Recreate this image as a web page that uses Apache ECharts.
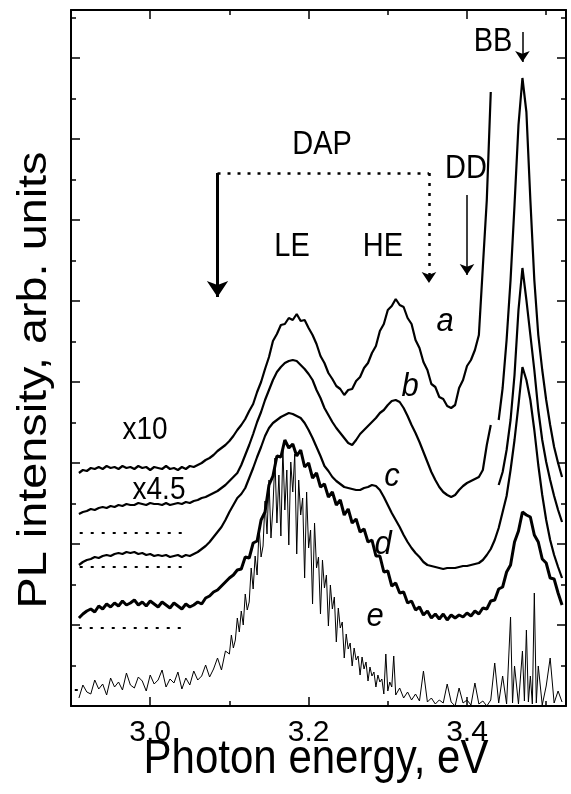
<!DOCTYPE html>
<html><head><meta charset="utf-8">
<script src="https://cdn.jsdelivr.net/npm/echarts@6/dist/echarts.min.js"></script>
<style>html,body{margin:0;padding:0;background:#fff}#c{width:571px;height:794px}</style>
</head><body><div id="c"></div>
<script>
// Photon energy grid (eV)
const energy = [
2.910,2.915,2.920,2.925,2.930,2.935,2.940,2.945,2.950,2.955,
2.960,2.965,2.970,2.975,2.980,2.985,2.990,2.995,3.000,3.005,
3.010,3.015,3.020,3.025,3.030,3.035,3.040,3.045,3.050,3.055,
3.060,3.065,3.070,3.075,3.080,3.085,3.090,3.095,3.100,3.105,
3.110,3.115,3.120,3.125,3.130,3.135,3.140,3.145,3.150,3.155,
3.160,3.165,3.170,3.175,3.180,3.185,3.190,3.195,3.200,3.205,
3.210,3.215,3.220,3.225,3.230,3.235,3.240,3.245,3.250,3.255,
3.260,3.265,3.270,3.275,3.280,3.285,3.290,3.295,3.300,3.305,
3.310,3.315,3.320,3.325,3.330,3.335,3.340,3.345,3.350,3.355,
3.360,3.365,3.370,3.375,3.380,3.385,3.390,3.395,3.400,3.405,
3.410,3.415,3.420,3.425,3.430,3.435,3.440,3.445,3.450,3.455,
3.460,3.465,3.470,3.475,3.480,3.485,3.490,3.495,3.500,3.505,
3.510,3.515,3.520];

// PL intensity (arb. units, offset for display)
const curveA = [
233,236,235,238,237,239,237,240,238,239,
237,240,238,239,237,240,238,239,236,239,
238,237,240,237,238,236,239,237,240,239,
241,243,246,248,251,255,258,261,265,270,
276,281,287,295,302,314,324,337,349,365,
372,381,382,388,386,392,385,386,378,371,
362,350,343,333,327,320,317,311,316,317,
325,329,338,343,353,360,375,382,396,400,
407,401,399,388,382,366,358,344,336,322,
319,309,307,300,298,301,318,326,340,346,
356,371,439,506,614,null,286,318,366,426,
501,581,628,594,506,426,371,336,306,281,
259,243,229];

const curveB = [
192,194,195,197,196,198,199,198,200,199,
201,200,202,201,201,203,202,201,203,202,
202,201,203,201,202,203,202,204,203,205,
206,208,209,211,213,215,218,221,225,229,
233,241,251,261,272,284,294,306,316,326,
334,339,343,345,346,345,341,337,332,326,
316,308,298,291,284,278,273,268,263,261,
266,272,276,280,284,288,293,296,301,305,
306,304,298,290,281,273,264,254,244,234,
226,219,214,211,209,211,216,220,223,225,
227,229,236,261,281,null,221,234,256,286,
331,396,438,406,371,336,296,266,244,226,
210,196,184];

const curveC = [
141,144,146,147,149,148,150,151,150,152,
153,152,154,153,154,152,153,151,152,150,
151,150,151,149,150,151,149,151,150,152,
154,157,160,164,169,174,179,186,194,201,
208,212,218,228,238,249,259,270,278,283,
286,289,291,293,292,290,288,283,276,268,
259,250,240,235,229,225,222,219,218,217,
216,216,218,219,221,220,216,209,201,193,
186,179,171,164,158,153,149,144,141,140,
139,138,137,138,138,138,139,140,140,141,
142,143,146,151,157,166,178,194,210,236,
266,301,339,326,306,276,241,211,186,166,
151,139,128];

const curveD = [
88,92,95,97,94,100,97,102,99,103,
100,105,101,103,106,101,104,100,105,102,
99,104,101,98,103,100,97,102,99,101,
104,102,108,110,114,116,120,124,128,131,
136,137,149,148,163,165,186,194,221,230,
250,249,266,258,262,250,256,239,243,228,
233,219,222,209,214,201,206,191,197,183,
187,174,177,164,166,150,150,134,135,120,
123,113,114,103,105,96,99,91,95,88,
92,87,92,86,91,88,91,89,93,90,
95,92,98,97,105,106,117,119,134,141,
164,175,194,191,189,171,164,147,143,128,
127,113,101];

// curve e: [energy, intensity]
const curveE = [
[2.910,8],[2.915,21],[2.920,14],[2.925,12],[2.930,26],[2.935,17],[2.940,22],[2.945,11],[2.950,28],[2.955,19],
[2.960,24],[2.965,16],[2.970,33],[2.975,21],[2.980,18],[2.985,29],[2.990,25],[2.995,15],[3.000,31],[3.005,22],
[3.010,26],[3.015,36],[3.020,19],[3.025,27],[3.030,23],[3.035,34],[3.040,17],[3.045,28],[3.050,21],[3.055,35],
[3.060,26],[3.065,30],[3.070,41],[3.075,29],[3.080,37],[3.085,48],[3.090,36],[3.095,55],
[3.1000,52],[3.1025,71],[3.1050,58],[3.1075,66],[3.1100,88],[3.1125,74],[3.1150,95],[3.1175,81],[3.1200,112],[3.1225,96],
[3.1250,104],[3.1275,138],[3.1300,117],[3.1325,150],[3.1350,131],[3.1375,178],[3.1400,149],[3.1425,160],[3.1450,205],[3.1475,172],
[3.1500,226],[3.1525,168],[3.1550,199],[3.1575,248],[3.1600,183],[3.1625,231],[3.1650,170],[3.1675,258],[3.1700,196],[3.1725,236],
[3.1750,161],[3.1775,244],[3.1800,214],[3.1825,252],[3.1850,152],[3.1875,226],[3.1900,191],[3.1925,208],[3.1950,128],[3.1975,214],
[3.2000,158],[3.2025,176],[3.2050,102],[3.2075,183],[3.2100,138],[3.2125,149],[3.2150,92],[3.2175,146],[3.2200,118],[3.2225,131],
[3.2250,80],[3.2275,121],[3.2300,97],[3.2325,109],[3.2350,64],[3.2375,98],[3.2400,78],[3.2425,84],[3.2450,48],[3.2475,72],
[3.2500,57],[3.2525,63],[3.2550,40],[3.2575,58],[3.2600,46],[3.2625,50],[3.2650,31],[3.2675,49],[3.2700,37],[3.2725,44],
[3.2750,25],[3.2775,39],[3.2800,30],[3.2825,34],[3.2850,19],[3.2875,31],[3.2900,24],[3.2925,27],[3.2950,12],[3.2975,52],
[3.3000,15],[3.3025,24],[3.3050,19],[3.3075,50],[3.3100,11],
[3.315,18],[3.320,8],[3.325,14],[3.330,6],[3.335,12],[3.340,5],[3.345,35],[3.350,4],
[3.355,8],[3.360,2],[3.365,6],[3.370,3],[3.375,22],[3.380,4],[3.385,0],[3.390,18],[3.395,3],[3.400,6],
[3.405,1],[3.410,23],[3.415,2],[3.420,5],[3.425,0],[3.430,6],[3.435,43],[3.440,3],[3.445,30],[3.450,2],
[3.455,89],[3.4575,3],[3.460,40],[3.465,2],[3.470,55],[3.4725,5],[3.475,76],[3.4775,4],[3.480,30],[3.4825,2],
[3.485,113],[3.4875,3],[3.490,40],[3.495,1],[3.500,20],[3.505,48],[3.510,3],[3.515,15],[3.520,4]];

// zero-level dotted markers
const zeroLineB = [[2.911,173],[3.044,173]];
const zeroLineC = [[2.911,139],[3.041,139]];
const zeroLineD = [[2.882,78],[3.048,78]];
const zeroLineE = [[2.877,16],[2.915,16]];

// annotation arrows [energy, intensity]
const arrowDAP = [[3.085,533],[3.085,409]];
const bracketDAP = [[3.085,533],[3.352,533]];
const arrowDAPdot = [[3.352,533],[3.352,423]];
const arrowDD = [[3.400,511],[3.400,431]];
const arrowBB = [[3.470,674],[3.470,644]];

const xTickLabels = ['3.0','3.2','3.4'];

const FONT = 'Liberation Sans, Arial, Helvetica, sans-serif';
const chart = echarts.init(document.getElementById('c'), null, {renderer:'canvas'});

function pair(x, y){ return x.map((e,i)=> [e, y[i]]); }

function xAx(pos){
  return {
    type:'value', position:pos, min:2.9, max:3.525, splitNumber:3,
    axisLine:{show:true, onZero:false, lineStyle:{color:'#000', width:2}},
    axisTick:{show:true, inside:true, length:9, lineStyle:{color:'#000', width:1.5}},
    minorTick:{show:true, splitNumber:2, length:5, lineStyle:{color:'#000', width:1.5}},
    splitLine:{show:false}, minorSplitLine:{show:false},
    axisLabel:{show: pos==='bottom', showMinLabel:false, showMaxLabel:false, margin:12,
      color:'#000', fontSize:30, fontFamily:FONT,
      formatter: v => { const s = v.toFixed(1); return (xTickLabels.includes(s) && Math.abs(v - parseFloat(s))<1e-6) ? s : ''; }}
  };
}
function yAx(pos){
  return {
    type:'value', position:pos, min:0, max:696, interval:81,
    axisLine:{show:true, onZero:false, lineStyle:{color:'#000', width:2}},
    axisTick:{show:true, inside:true, length:9, lineStyle:{color:'#000', width:1.5}},
    minorTick:{show:true, splitNumber:2, length:5, lineStyle:{color:'#000', width:1.5}},
    splitLine:{show:false}, minorSplitLine:{show:false},
    axisLabel:{show:false}
  };
}
function curve(name, data, w){
  return {name, type:'line', data, xAxisIndex:0, yAxisIndex:0, showSymbol:false, symbol:'none',
    connectNulls:false, lineStyle:{color:'#000', width:w}, z:3};
}
function dots(name, data){
  return {name, type:'line', data, showSymbol:false, symbol:'none', clip:false,
    lineStyle:{color:'#000', width:2, type:[3,8]}, z:2};
}
function arrow(name, seg, w, dash, sz){
  return {name, type:'line', data:[], markLine:{silent:true, animation:false,
    symbol:['none', sz ? 'arrow' : 'none'], symbolSize: sz || 0, label:{show:false},
    lineStyle:{color:'#000', width:w, type:dash||'solid'},
    data:[[{coord:seg[0]},{coord:seg[1]}]]}};
}
function txt(t, x, y, size, sy, italic){
  return {type:'text', x, y, scaleY: sy||1, style:{text:t, fill:'#000', fontSize:size, fontFamily:FONT,
    fontStyle: italic ? 'italic' : 'normal', align:'center', verticalAlign:'middle'}};
}

chart.setOption({
  animation:false,
  backgroundColor:'#fff',
  grid:{left:71, right:5, top:10, bottom:88},
  xAxis:[xAx('bottom'), xAx('top')],
  yAxis:[yAx('left'), yAx('right')],
  series:[
    curve('a', pair(energy, curveA), 2.2),
    curve('b', pair(energy, curveB), 2.2),
    curve('c', pair(energy, curveC), 2.2),
    curve('d', pair(energy, curveD), 3),
    curve('e', curveE, 1),
    dots('zero b', zeroLineB), dots('zero c', zeroLineC), dots('zero d', zeroLineD), dots('zero e', zeroLineE),
    arrow('DAP LE', arrowDAP, 3, 'solid', 16),
    arrow('DAP bracket', bracketDAP, 2.5, [3,7], 0),
    arrow('DAP HE', arrowDAPdot, 2.5, [3,7], 11),
    arrow('DD', arrowDD, 1.5, 'solid', 11),
    arrow('BB', arrowBB, 1.5, 'solid', 11)
  ],
  graphic:[
    txt('Photon energy, eV', 316, 760, 42, 1.15),
    {type:'text', x:35, y:380, rotation:Math.PI/2, scaleX:1.17,
      style:{text:'PL intensity, arb. units', fill:'#000', fontSize:40, fontFamily:FONT, align:'center', verticalAlign:'middle'}},
    txt('DAP', 322, 145, 29, 1.12),
    txt('LE', 292, 247, 29, 1.12),
    txt('HE', 383, 247, 29, 1.12),
    txt('DD', 466, 169, 29, 1.12),
    txt('BB', 493, 42, 29, 1.12),
    txt('x10', 145, 430, 28, 1.12),
    txt('x4.5', 159, 490, 28, 1.12),
    txt('a', 445, 322, 31, 1.1, true),
    txt('b', 410, 387, 31, 1.1, true),
    txt('c', 392, 477, 31, 1.1, true),
    txt('d', 383, 545, 31, 1.1, true),
    txt('e', 375, 617, 31, 1.1, true)
  ]
});
</script></body></html>
